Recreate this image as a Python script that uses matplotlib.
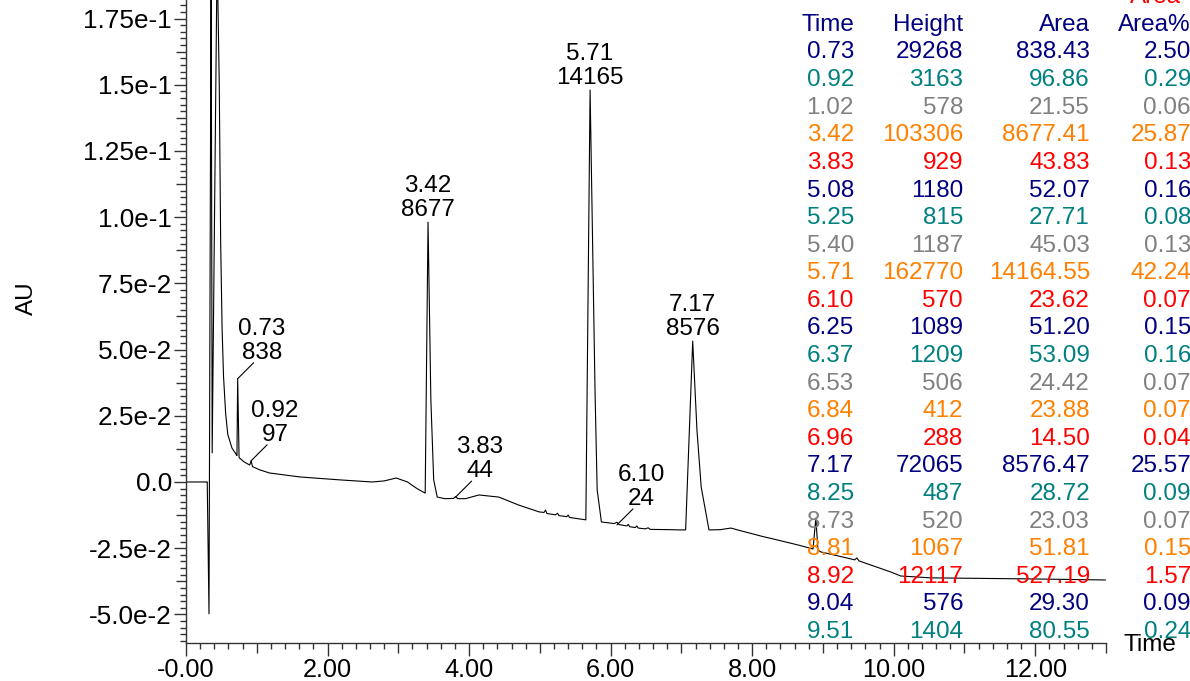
import numpy as np
import matplotlib.pyplot as plt
from matplotlib.ticker import MultipleLocator, FixedLocator, FixedFormatter

plt.rcParams['font.family'] = ['Liberation Sans', 'DejaVu Sans']

# ---------------------------------------------------------------------
# chromatogram trace (minutes, AU)
# ---------------------------------------------------------------------
trace_t = [0.00, 0.29, 0.30, 0.325, 0.355, 0.37, 0.44, 0.47, 0.49, 0.51,
           0.53, 0.56, 0.59, 0.65, 0.71, 0.72, 0.73, 0.75, 0.82, 0.90,
           0.92, 0.94, 1.04, 1.18, 1.61, 2.17, 2.63, 2.80, 2.97, 3.13,
           3.27, 3.38, 3.42, 3.46, 3.50, 3.55, 3.66, 3.78, 3.81, 3.84,
           3.95, 4.14, 4.42, 4.70, 4.99, 5.06, 5.08, 5.10, 5.22, 5.25,
           5.27, 5.38, 5.40, 5.42, 5.65, 5.71, 5.78, 5.81, 5.87, 6.05,
           6.09, 6.12, 6.23, 6.25, 6.27, 6.35, 6.37, 6.39, 6.49, 6.53,
           6.56, 6.84, 6.96, 7.06, 7.16, 7.22, 7.28, 7.39, 7.55, 7.70,
           7.85, 8.18, 8.25, 8.65, 8.86, 8.90, 8.93, 8.97, 9.45, 9.48,
           9.51, 9.96, 10.10, 10.52, 11.93, 12.99]
trace_au = [0.0, 0.0, 0.0, -0.0498, 0.20, 0.011, 0.20, 0.15, 0.09, 0.058,
            0.040, 0.026, 0.018, 0.0128, 0.0104, 0.0100, 0.039, 0.0092, 0.0076, 0.0064,
            0.0080, 0.0058, 0.0046, 0.0034, 0.0019, 0.0008, 0.0, 0.0004, 0.0015, 0.0,
            -0.0026, -0.0042, 0.0981, 0.031, 0.0008, -0.0057, -0.0063, -0.0062, -0.0055, -0.0063,
            -0.0063, -0.0049, -0.0057, -0.0087, -0.0113, -0.0115, -0.0106, -0.0119, -0.0124, -0.0118,
            -0.0127, -0.0131, -0.0125, -0.0134, -0.0143, 0.148, 0.034, -0.003, -0.0151, -0.0157,
            -0.0152, -0.0161, -0.0166, -0.0160, -0.0169, -0.0172, -0.0166, -0.0174, -0.0177, -0.0173,
            -0.0179, -0.0180, -0.0181, -0.0181, 0.0532, 0.0196, -0.0019, -0.0181, -0.0180, -0.0174,
            -0.0185, -0.0208, -0.0212, -0.0238, -0.0253, -0.0136, -0.0257, -0.0264, -0.0294, -0.0287,
            -0.0298, -0.0340, -0.0355, -0.0362, -0.0366, -0.0370]

# labelled peaks: time, area label, apex height (AU), small peaks get a leader line
label_t = [0.73, 0.92, 3.42, 3.83, 5.71, 6.10, 7.17]
label_area = ['838', '97', '8677', '44', '14165', '24', '8576']
label_au = [0.039, 0.0080, 0.0981, -0.0057, 0.148, -0.0162, 0.0532]
label_x = [0.73, 0.92, 3.42, 3.81, 5.71, 6.09, 7.16]
label_leader = [True, True, False, True, False, True, False]

# peak table
times = [0.73, 0.92, 1.02, 3.42, 3.83, 5.08, 5.25, 5.40, 5.71, 6.10, 6.25,
         6.37, 6.53, 6.84, 6.96, 7.17, 8.25, 8.73, 8.81, 8.92, 9.04, 9.51]
heights = [29268, 3163, 578, 103306, 929, 1180, 815, 1187, 162770, 570, 1089,
           1209, 506, 412, 288, 72065, 487, 520, 1067, 12117, 576, 1404]
areas = [838.43, 96.86, 21.55, 8677.41, 43.83, 52.07, 27.71, 45.03, 14164.55, 23.62, 51.20,
         53.09, 24.42, 23.88, 14.50, 8576.47, 28.72, 23.03, 51.81, 527.19, 29.30, 80.55]
area_pct = [2.50, 0.29, 0.06, 25.87, 0.13, 0.16, 0.08, 0.13, 42.24, 0.07, 0.15,
            0.16, 0.07, 0.07, 0.04, 25.57, 0.09, 0.07, 0.15, 1.57, 0.09, 0.24]
row_colors = ['#000080', '#008080', '#808080', '#FF8000', '#FF0000']

x_ticks = [0, 2, 4, 6, 8, 10, 12]
x_ticklabels = ['-0.00', '2.00', '4.00', '6.00', '8.00', '10.00', '12.00']
y_ticks = [-0.05, -0.025, 0.0, 0.025, 0.05, 0.075, 0.1, 0.125, 0.15, 0.175]
y_ticklabels = ['-5.0e-2', '-2.5e-2', '0.0', '2.5e-2', '5.0e-2', '7.5e-2',
                '1.0e-1', '1.25e-1', '1.5e-1', '1.75e-1']

FS = 17.5
W, H = 1190, 681

fig = plt.figure(figsize=(W / 100, H / 100), dpi=100)
ax = fig.add_axes([186 / W, 1 - 643 / H, (1106 - 186) / W, 643 / H])

ax.plot(trace_t, trace_au, color='black', lw=0.8)

ax.set_xlim(0, 13.0)
ax.set_ylim(-0.0608, 0.1820)

for s in ['top', 'right']:
    ax.spines[s].set_visible(False)
for s in ['left', 'bottom']:
    ax.spines[s].set_color('#333333')
    ax.spines[s].set_linewidth(1.0)

ax.xaxis.set_major_locator(FixedLocator(x_ticks))
ax.xaxis.set_major_formatter(FixedFormatter(x_ticklabels))
ax.xaxis.set_minor_locator(MultipleLocator(0.2))
ax.yaxis.set_major_locator(FixedLocator(y_ticks))
ax.yaxis.set_major_formatter(FixedFormatter(y_ticklabels))
ax.yaxis.set_minor_locator(MultipleLocator(0.0025))

ax.tick_params(which='major', length=9, width=1, color='#333333')
ax.tick_params(which='minor', length=4.5, width=1, color='#333333')
ax.tick_params(axis='y', which='major', pad=1, labelsize=18.8)
ax.tick_params(axis='x', which='major', pad=2, labelsize=18.2)

# medium ticks halfway between the labelled ones
xlocs = ax.xaxis.get_minorticklocs()
for tick, loc in zip(ax.xaxis.get_minor_ticks(len(xlocs)), xlocs):
    if abs(loc % 2 - 1) < 1e-6:
        tick.tick1line.set_markersize(7)
ylocs = ax.yaxis.get_minorticklocs()
for tick, loc in zip(ax.yaxis.get_minor_ticks(len(ylocs)), ylocs):
    r = (loc / 0.0125) % 2
    if abs(r - 1) < 1e-6:
        tick.tick1line.set_markersize(7)

# peak labels
for t, a, h, x, lead in zip(label_t, label_area, label_au, label_x, label_leader):
    txt = f"{t:.2f}\n{a}"
    if lead:
        ax.annotate('', xy=(x, h), xytext=(16, 16), textcoords='offset pixels',
                    arrowprops=dict(arrowstyle='-', lw=0.8, color='black',
                                    shrinkA=0, shrinkB=0))
        ax.annotate(txt, xy=(x, h), xytext=(24, 15), textcoords='offset pixels',
                    ha='center', va='bottom', fontsize=FS, linespacing=1.1)
    else:
        ax.annotate(txt, xy=(x, h), xytext=(0, 1), textcoords='offset pixels',
                    ha='center', va='bottom', fontsize=FS, linespacing=1.1)

# axis titles
fig.text(27 / W, 1 - 298 / H, 'AU', rotation=90, ha='center', va='center', fontsize=FS)
fig.text(1150 / W, 1 - 645 / H, 'Time', ha='center', va='center', fontsize=FS)

# peak table on the right
col_right = [854, 963, 1090, 1191]
row0, dy = 52.5, 27.6


def ty(i):
    return 1 - (row0 + dy * i) / H


fig.text(1155 / W, ty(-2), 'Area', ha='center', va='center', fontsize=FS, color='#FF0000')
for xr, head in zip(col_right, ['Time', 'Height', 'Area', 'Area%']):
    fig.text(xr / W, ty(-1), head, ha='right', va='center', fontsize=FS, color='#000080')

for i in range(len(times)):
    c = row_colors[i % len(row_colors)]
    vals = [f"{times[i]:.2f}", f"{heights[i]}", f"{areas[i]:.2f}", f"{area_pct[i]:.2f}"]
    for xr, v in zip(col_right, vals):
        fig.text(xr / W, ty(i), v, ha='right', va='center', fontsize=FS, color=c)

fig.savefig('out.png', dpi=100)
